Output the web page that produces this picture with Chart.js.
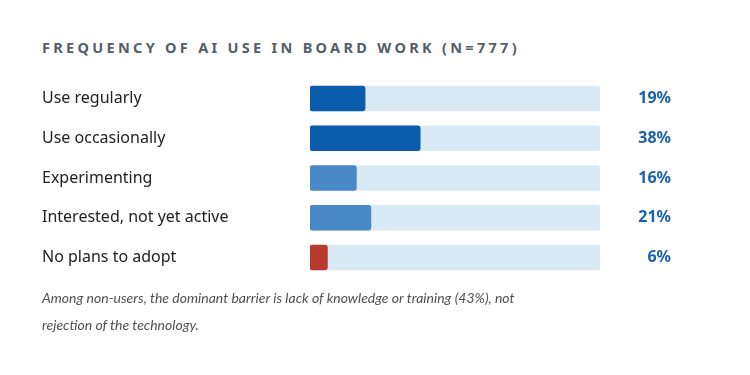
<!DOCTYPE html>
<html>
<head>
<meta charset="utf-8">
<script src="https://cdn.jsdelivr.net/npm/chart.js@4"></script>
<style>
  html, body { margin: 0; padding: 0; background: #fff; }
  body { width: 750px; height: 375px; position: relative; overflow: hidden; font-family: "Noto Sans", "Open Sans", sans-serif; }
  #titulo { position: absolute; left: 42px; top: 37px; font-size: 14.5px; line-height: 20px; font-weight: 700; letter-spacing: 3.3px; color: #555d66; white-space: nowrap; }
  #grafico { position: absolute; left: 42px; top: 66px; width: 629px; height: 224px; }
  #nota { position: absolute; left: 42px; top: 284px; width: 640px; font-family: Lato, "Noto Sans", sans-serif; font-size: 14px; font-style: italic; line-height: 27px; color: #505050; }
</style>
</head>
<body>
<div id="titulo">FREQUENCY OF AI USE IN BOARD WORK (N=777)</div>
<div id="grafico"><canvas id="myChart"></canvas></div>
<div id="nota">Among non-users, the dominant barrier is lack of knowledge or training (43%), not<br>rejection of the technology.</div>
<script>
const categorias = ['Use regularly', 'Use occasionally', 'Experimenting', 'Interested, not yet active', 'No plans to adopt'];
const valores = [19, 38, 16, 21, 6];
const fondo = [100, 100, 100, 100, 100];
const coloresBarra = ['#0b5cad', '#0b5cad', '#4a89c8', '#4a89c8', '#b8392e'];

const myChart = document.getElementById('myChart');

const chartConfig = {
    type: 'bar',
    data: {
        labels: categorias,
        datasets: [
            {
                data: valores,
                backgroundColor: coloresBarra,
                borderRadius: 3,
                borderSkipped: false,
                grouped: false,
                barThickness: 25,
            },
            {
                data: fondo,
                backgroundColor: '#d9eaf5',
                borderRadius: 3,
                borderSkipped: false,
                grouped: false,
                barThickness: 25,
                yAxisID: 'y2',
            },
        ],
    },
    options: {
        indexAxis: 'y',
        responsive: true,
        maintainAspectRatio: false,
        animation: false,
        layout: { padding: 0 },
        plugins: {
            legend: { display: false },
            tooltip: { enabled: false },
        },
        scales: {
            x: {
                min: 0,
                max: 100,
                display: false,
            },
            y: {
                position: 'left',
                grid: { display: false },
                border: { display: false },
                afterFit: (axis) => { axis.width = 268; },
                ticks: {
                    crossAlign: 'far',
                    color: '#222',
                    font: { family: 'Noto Sans', size: 16 },
                },
            },
            y2: {
                position: 'right',
                grid: { display: false },
                border: { display: false },
                afterFit: (axis) => { axis.width = 71; },
                ticks: {
                    crossAlign: 'far',
                    color: '#1a62ad',
                    font: { family: 'Noto Sans', size: 16, weight: 'bold' },
                    callback: (val, i) => valores[i] + '%',
                },
            },
        },
    },
};

new Chart(myChart, chartConfig);
</script>
</body>
</html>
